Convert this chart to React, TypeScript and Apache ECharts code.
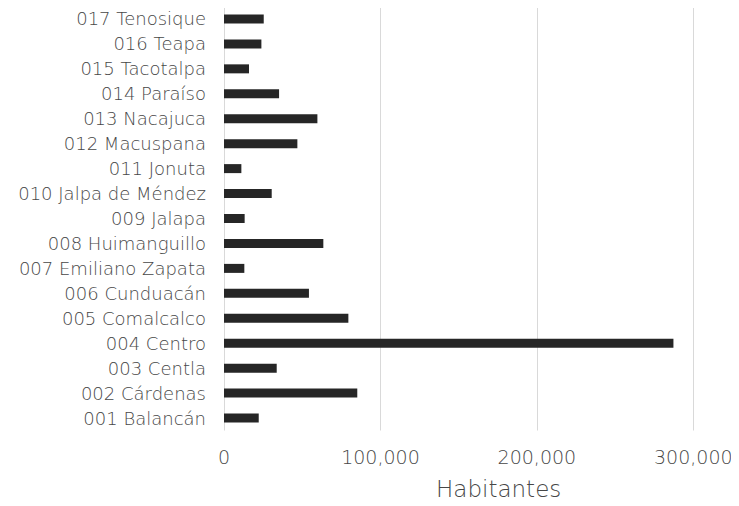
import React, { useEffect, useRef } from "react";
import * as echarts from "echarts";

const categories = [
  "001 Balancán",
  "002 Cárdenas",
  "003 Centla",
  "004 Centro",
  "005 Comalcalco",
  "006 Cunduacán",
  "007 Emiliano Zapata",
  "008 Huimanguillo",
  "009 Jalapa",
  "010 Jalpa de Méndez",
  "011 Jonuta",
  "012 Macuspana",
  "013 Nacajuca",
  "014 Paraíso",
  "015 Tacotalpa",
  "016 Teapa",
  "017 Tenosique",
];

const habitantes = [
  22200, 85200, 33700, 287300, 79500, 54300, 13000, 63500, 13200, 30500,
  11100, 46900, 59700, 35200, 16000, 23900, 25400,
];

const xTicks = { min: 0, max: 300000, interval: 100000 };
const axisTitle = "Habitantes";

const FONT = "'DejaVu Sans', sans-serif";
const TEXT = "#474747";
const WEIGHT = 200;

export default function App() {
  const ref = useRef<HTMLDivElement>(null);
  useEffect(() => {
    if (!ref.current) return;
    const chart = echarts.init(ref.current, null, { renderer: "svg" });
    chart.setOption({
      animation: false,
      grid: { left: 224, right: 45.7, top: 6.5, bottom: 75.5 },
      xAxis: {
        type: "value",
        min: xTicks.min,
        max: xTicks.max,
        interval: xTicks.interval,
        axisLine: { show: false },
        axisTick: { show: false },
        splitLine: { show: true, lineStyle: { color: "#d9d9d9", width: 1 } },
        axisLabel: {
          color: TEXT,
          fontFamily: FONT,
          fontWeight: WEIGHT,
          fontSize: 19,
          margin: 17,
          formatter: (v: number) => v.toLocaleString("en-US"),
        },
        name: axisTitle,
        nameLocation: "middle",
        nameGap: 47,
        nameTextStyle: {
          color: TEXT,
          fontFamily: FONT,
          fontWeight: WEIGHT,
          fontSize: 23,
          padding: [0, 0, 0, 80],
        },
      },
      yAxis: {
        type: "category",
        data: categories,
        axisLine: { show: false },
        axisTick: { show: false },
        axisLabel: {
          color: TEXT,
          fontFamily: FONT,
          fontWeight: WEIGHT,
          fontSize: 18,
          margin: 18,
        },
      },
      series: [
        {
          type: "bar",
          data: habitantes,
          barWidth: 9,
          itemStyle: { color: "#262626" },
        },
      ],
    });
    return () => chart.dispose();
  }, []);
  return <div ref={ref} style={{ width: 739, height: 506, margin: -8 }} />;
}
